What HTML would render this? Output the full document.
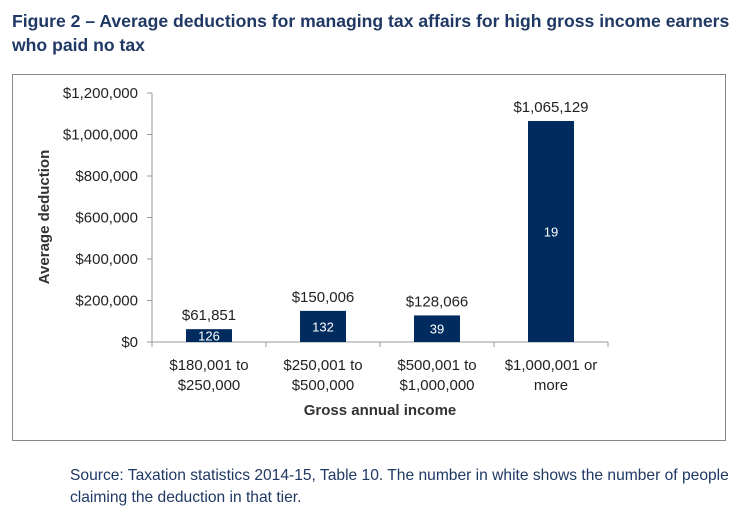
<!DOCTYPE html>
<html><head><meta charset="utf-8"><style>
body{margin:0;width:739px;height:516px;background:#fff;font-family:"Liberation Sans",sans-serif;overflow:hidden}
#t{position:absolute;left:12px;top:9px;font-weight:bold;font-size:17.6px;line-height:24px;color:#1f3864;white-space:nowrap}
#s{position:absolute;left:70px;top:465px;font-size:15.6px;line-height:22px;color:#1f3864;white-space:nowrap}
svg{position:absolute;left:0;top:0}
</style></head><body>
<div id="t">Figure 2 – Average deductions for managing tax affairs for high gross income earners<br>who paid no tax</div>
<svg width="739" height="516">
<rect x="12.5" y="74.5" width="713" height="366" fill="#fff" stroke="#888"/>
<g id="g"></g>
</svg>
<div id="s">Source: Taxation statistics 2014-15, Table 10. The number in white shows the number of people<br>claiming the deduction in that tier.</div>
<script>
const categories=[["$180,001 to","$250,000"],["$250,001 to","$500,000"],["$500,001 to","$1,000,000"],["$1,000,001 or","more"]];
const values=[61851,150006,128066,1065129];
const counts=[126,132,39,19];
const valueLabels=["$61,851","$150,006","$128,066","$1,065,129"];
const ticks=[0,200000,400000,600000,800000,1000000,1200000];
const tickLabels=["$0","$200,000","$400,000","$600,000","$800,000","$1,000,000","$1,200,000"];
const X0=152,CW=114,Y0=342,YT=93,MAX=1200000;
const y=v=>Y0-(v/MAX)*(Y0-YT);
const g=document.getElementById('g');const NS="http://www.w3.org/2000/svg";
function el(t,a,txt){const e=document.createElementNS(NS,t);for(const k in a)e.setAttribute(k,a[k]);if(txt!=null)e.textContent=txt;g.appendChild(e);return e;}
let e=el('line',{x1:X0,x2:X0,y1:YT,y2:Y0,stroke:'#999'});


e=el('line',{x1:X0,x2:X0+CW*4,y1:Y0,y2:Y0,stroke:'#999'});


ticks.forEach((t,i)=>{
 el('line',{x1:X0-5,x2:X0,y1:y(t),y2:y(t),stroke:'#999'});
 e=el('text',{x:X0-14,y:y(t)+5,'text-anchor':'end','font-size':15,fill:'#222'},tickLabels[i]);
 
 
});
for(let i=0;i<=4;i++)el('line',{x1:X0+CW*i,x2:X0+CW*i,y1:Y0,y2:Y0+5,stroke:'#999'});
values.forEach((v,i)=>{
 const cx=X0+CW*(i+0.5);
 e=el('rect',{x:cx-23,y:y(v),width:46,height:Y0-y(v),fill:'#002b5f'});
 
 
 e=el('text',{x:cx,y:y(v)-9,'text-anchor':'middle','font-size':15,fill:'#222'},valueLabels[i]);
 
 
 const ly=Math.min((y(v)+Y0)/2+5,Y0+1);
 e=el('text',{x:cx,y:ly,'text-anchor':'middle','font-size':13,fill:'#fff'},counts[i]);
 
 
 categories[i].forEach((l,j)=>{
  e=el('text',{x:cx,y:370+j*20,'text-anchor':'middle','font-size':15,fill:'#222'},l);
  
  
 });
});
e=el('text',{x:X0+CW*2,y:415,'text-anchor':'middle','font-size':15,'font-weight':'bold',fill:'#333'},'Gross annual income');


e=el('text',{x:0,y:0,'text-anchor':'middle','font-size':15,'font-weight':'bold',fill:'#333',transform:'translate(49,217) rotate(-90)'},'Average deduction');


</script>
</body></html>
